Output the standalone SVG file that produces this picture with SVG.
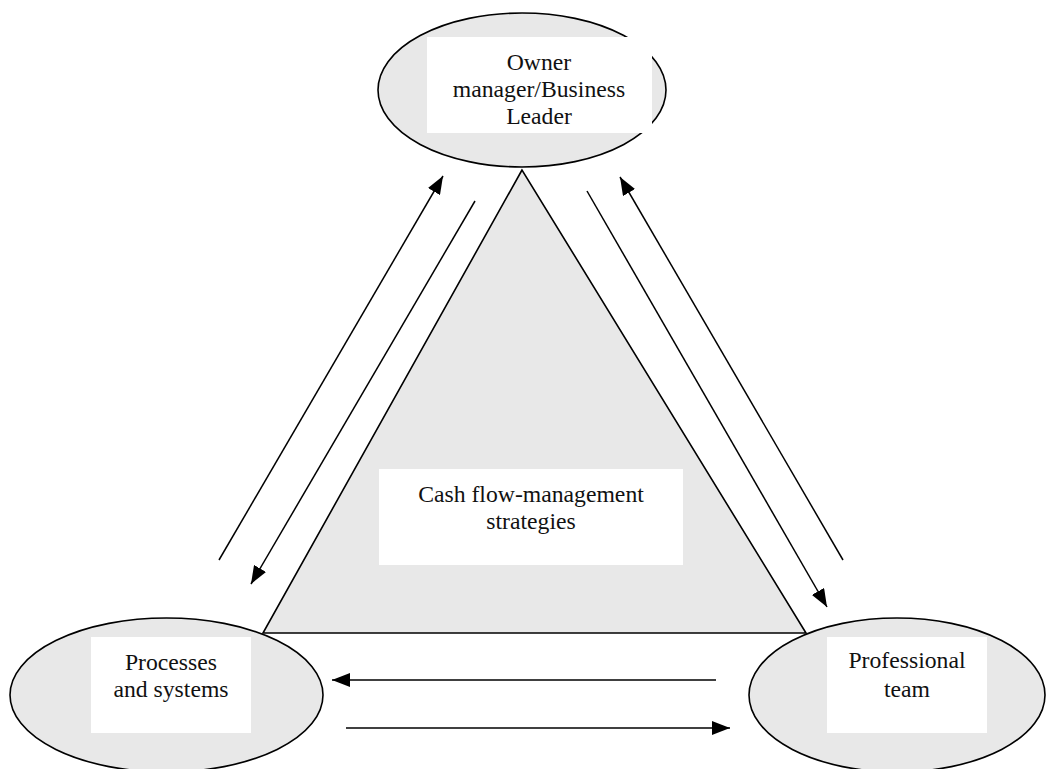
<svg xmlns="http://www.w3.org/2000/svg" width="1048" height="769" viewBox="0 0 1048 769">
<style>
.node{fill:#e8e8e8;stroke:#000;stroke-width:1.6}
.box{fill:#fff;stroke:none}
.lbl{font-family:"Liberation Serif","Times New Roman",serif;font-size:23.7px;fill:#111;text-anchor:middle}
.edge{stroke:#000;stroke-width:1.5;fill:none}
</style>
<defs>
<marker id="arr" viewBox="0 0 18 14" refX="18" refY="7" markerWidth="18" markerHeight="14" markerUnits="userSpaceOnUse" orient="auto">
<path d="M0,0 L18,7 L0,14 z" fill="#000"/>
</marker>
</defs>
<rect width="1048" height="769" fill="#fff"/>
<g id="center">
<polygon points="522,170 263,633 806,633" class="node"/>
<rect x="379" y="469" width="304" height="96" class="box"/>
<text class="lbl" x="531" y="502">Cash flow-management</text>
<text class="lbl" x="531" y="529">strategies</text>
</g>
<g id="owner">
<ellipse cx="522" cy="90" rx="144" ry="77" class="node"/>
<rect x="427" y="37" width="225" height="96" class="box"/>
<text class="lbl" x="539" y="70">Owner</text>
<text class="lbl" x="539" y="97">manager/Business</text>
<text class="lbl" x="539" y="124">Leader</text>
</g>
<g id="processes">
<ellipse cx="166.5" cy="695" rx="156.5" ry="77" class="node"/>
<rect x="91" y="637" width="160" height="96" class="box"/>
<text class="lbl" x="171" y="670">Processes</text>
<text class="lbl" x="171" y="697">and systems</text>
</g>
<g id="professional">
<ellipse cx="897" cy="695" rx="148" ry="77" class="node"/>
<rect x="827" y="637" width="160" height="96" class="box"/>
<text class="lbl" x="907" y="668">Professional</text>
<text class="lbl" x="907" y="697">team</text>
</g>
<g id="connectors">
<line class="edge" x1="219" y1="560" x2="443" y2="176" marker-end="url(#arr)"/>
<line class="edge" x1="475" y1="201" x2="251" y2="584" marker-end="url(#arr)"/>
<line class="edge" x1="587" y1="191" x2="827" y2="607" marker-end="url(#arr)"/>
<line class="edge" x1="843" y1="560" x2="620" y2="177" marker-end="url(#arr)"/>
<line class="edge" x1="716" y1="680" x2="332" y2="680" marker-end="url(#arr)"/>
<line class="edge" x1="346" y1="728" x2="730" y2="728" marker-end="url(#arr)"/>
</g>
</svg>
